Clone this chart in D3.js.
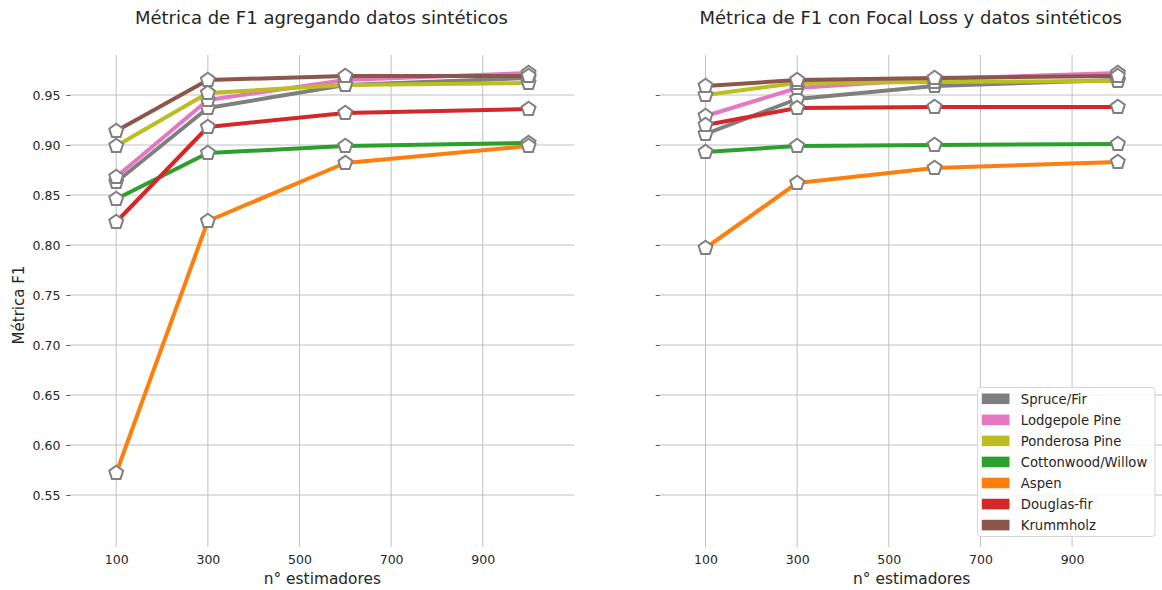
<!DOCTYPE html>
<html>
<head>
<meta charset="utf-8">
<script src="https://cdn.jsdelivr.net/npm/d3@7"></script>
<style>
  html, body { margin: 0; padding: 0; background: #ffffff; }
  svg { display: block; font-family: "DejaVu Sans", sans-serif; }
</style>
</head>
<body>
<svg id="chart" width="1162" height="590"></svg>
<script>
// Number of estimators evaluated
const estimators = [100, 300, 600, 1000];
const xTickValues = [100, 300, 500, 700, 900];
const yTickValues = [0.55, 0.60, 0.65, 0.70, 0.75, 0.80, 0.85, 0.90, 0.95];

// Forest cover classes (plot order = legend order)
const classNames = ["Spruce/Fir", "Lodgepole Pine", "Ponderosa Pine", "Cottonwood/Willow", "Aspen", "Douglas-fir", "Krummholz"];
const classColors = ["#7f7f7f", "#e377c2", "#bcbd22", "#2ca02c", "#ff7f0e", "#d62728", "#8c564b"];

// F1 with synthetic data added
const f1Synthetic = [
  [0.863, 0.937, 0.960, 0.967],
  [0.868, 0.945, 0.965, 0.972],
  [0.899, 0.952, 0.960, 0.962],
  [0.846, 0.892, 0.899, 0.902],
  [0.572, 0.824, 0.882, 0.899],
  [0.823, 0.918, 0.932, 0.936],
  [0.914, 0.965, 0.969, 0.969]
];

// F1 with Focal Loss and synthetic data
const f1FocalLoss = [
  [0.911, 0.946, 0.959, 0.965],
  [0.929, 0.957, 0.966, 0.972],
  [0.950, 0.962, 0.963, 0.964],
  [0.893, 0.899, 0.900, 0.901],
  [0.797, 0.862, 0.877, 0.883],
  [0.920, 0.937, 0.938, 0.938],
  [0.959, 0.965, 0.967, 0.969]
];

const svg = d3.select("#chart");
svg.append("rect").attr("width", 1162).attr("height", 590).attr("fill", "#ffffff");

const textColor = "#262626";
const gridColor = "#c0c0c0";
const panelWidth = 504;
const plotTop = 55, plotBottom = 547;

const y = d3.scaleLinear().domain([0.498, 0.99]).range([plotBottom, plotTop]);

// Pentagon marker path centred on 0,0
function pentagon(r) {
  const pts = d3.range(5).map(i => {
    const a = -Math.PI / 2 + i * 2 * Math.PI / 5;
    return [r * Math.cos(a), r * Math.sin(a)];
  });
  return "M" + pts.map(p => p[0].toFixed(2) + "," + p[1].toFixed(2)).join("L") + "Z";
}

function drawPanel(left, title, data, showYLabels) {
  const x = d3.scaleLinear().domain([0, 1100]).range([left, left + panelWidth]);
  const g = svg.append("g");

  // grid
  g.selectAll(".hgrid").data(yTickValues).join("line")
    .attr("x1", left).attr("x2", left + panelWidth)
    .attr("y1", d => y(d)).attr("y2", d => y(d))
    .attr("stroke", gridColor).attr("stroke-width", 1);
  g.selectAll(".vgrid").data(xTickValues).join("line")
    .attr("x1", d => x(d)).attr("x2", d => x(d))
    .attr("y1", plotTop).attr("y2", plotBottom)
    .attr("stroke", gridColor).attr("stroke-width", 1);

  // y axis ticks
  const yAxis = d3.axisLeft(y).tickValues(yTickValues).tickSize(4).tickPadding(6)
    .tickFormat(showYLabels ? d3.format(".2f") : () => "");
  const ya = g.append("g").attr("transform", `translate(${left},0)`).call(yAxis);
  ya.select(".domain").remove();
  ya.selectAll(".tick line").attr("stroke", "#555").attr("stroke-width", 1);
  ya.selectAll(".tick text").attr("fill", textColor).attr("font-size", "12.5px")
    .attr("font-family", "DejaVu Sans, sans-serif");

  // x axis labels
  const xAxis = d3.axisBottom(x).tickValues(xTickValues).tickSize(0).tickPadding(8).tickFormat(d3.format("d"));
  const xa = g.append("g").attr("transform", `translate(0,${plotBottom})`).call(xAxis);
  xa.select(".domain").remove();
  xa.selectAll(".tick text").attr("fill", textColor).attr("font-size", "12.5px")
    .attr("font-family", "DejaVu Sans, sans-serif");

  // axis title
  g.append("text").attr("x", left + panelWidth / 2).attr("y", 584)
    .attr("text-anchor", "middle").attr("fill", textColor).attr("font-size", "15.4px")
    .text("n° estimadores");

  // panel title
  g.append("text").attr("x", left + panelWidth / 2 - 1).attr("y", 24)
    .attr("text-anchor", "middle").attr("fill", textColor).attr("font-size", "18px")
    .text(title);

  const line = d3.line().x((d, i) => x(estimators[i])).y(d => y(d));

  data.forEach((vals, k) => {
    const sg = g.append("g");
    sg.append("path").datum(vals).attr("d", line)
      .attr("fill", "none").attr("stroke", classColors[k]).attr("stroke-width", 4)
      .attr("stroke-linejoin", "round");
    sg.selectAll("path.mk").data(vals).join("path").attr("class", "mk")
      .attr("d", pentagon(7.3))
      .attr("transform", (d, i) => `translate(${x(estimators[i])},${y(d)})`)
      .attr("fill", "#ffffff").attr("stroke", "#808080").attr("stroke-width", 2)
      .attr("stroke-linejoin", "miter");
  });
  return x;
}

drawPanel(70.4, "Métrica de F1 agregando datos sintéticos", f1Synthetic, true);
drawPanel(659.7, "Métrica de F1 con Focal Loss y datos sintéticos", f1FocalLoss, false);

// y axis label
svg.append("text").attr("transform", `translate(24,${(plotTop + plotBottom) / 2 + 4}) rotate(-90)`)
  .attr("text-anchor", "middle").attr("fill", textColor).attr("font-size", "15px")
  .text("Métrica F1");

// legend
const lg = svg.append("g").attr("transform", "translate(977.5,387.5)");
lg.append("rect").attr("width", 177.5).attr("height", 149).attr("rx", 3)
  .attr("fill", "#ffffff").attr("fill-opacity", 0.85)
  .attr("stroke", "#d6d6d6").attr("stroke-width", 1);
classNames.forEach((name, k) => {
  const cy = 11.3 + k * 21.05;
  lg.append("rect").attr("x", 4.3).attr("y", cy - 5.3).attr("width", 27.7).attr("height", 10.6)
    .attr("fill", classColors[k]);
  lg.append("text").attr("x", 43.3).attr("y", cy).attr("dy", "0.36em")
    .attr("fill", textColor).attr("font-size", "13.2px").text(name);
});
</script>
</body>
</html>
